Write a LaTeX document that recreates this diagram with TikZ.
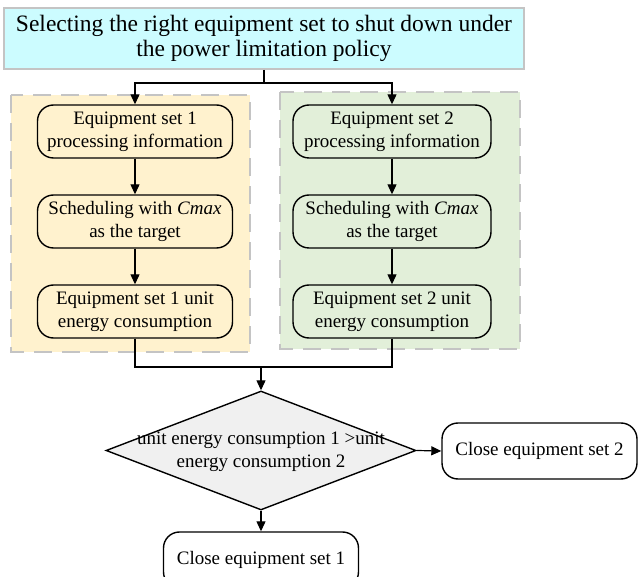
\documentclass[tikz,border=0pt]{standalone}
\usepackage{fontspec}
\setmainfont{Liberation Serif}
\usetikzlibrary{shapes.geometric,arrows.meta}

\definecolor{headfill}{HTML}{CCFCFF}
\definecolor{panelone}{HTML}{FFF2CE}
\definecolor{paneltwo}{HTML}{E2EFD9}
\definecolor{framegray}{HTML}{C4C4C4}
\definecolor{decfill}{HTML}{F0F0F0}

\tikzset{
  bodytext/.style={font=\fontsize{19}{23}\selectfont, align=center},
  headbox/.style={draw=framegray, line width=2pt, fill=headfill,
    minimum width=520pt, minimum height=61pt, inner sep=0pt,
    font=\fontsize{23.5}{25}\selectfont, align=center},
  panel/.style={draw=framegray, line width=2.5pt, dash pattern=on 18pt off 10pt},
  stepbox/.style={bodytext, draw, line width=1.4pt, rounded corners=16pt,
    minimum height=53pt, inner sep=0pt},
  endbox/.style={stepbox, fill=white, minimum width=195pt, minimum height=56pt},
  decision/.style={draw, line width=1.4pt, fill=decfill, diamond,
    minimum width=310pt, minimum height=119pt, inner sep=0pt},
  arr/.style={line width=1.2pt, -{Triangle[length=10pt,width=9pt]}},
  link/.style={line width=1.2pt}
}

\begin{document}
\begin{tikzpicture}[x=1pt,y=-1pt]
  \useasboundingbox (0,0) rectangle (638,577);
  \clip (0,0) rectangle (638,577);

  % group backgrounds
  \fill[panelone] (11,95) rectangle (250,352);
  \draw[panel] (11,95) rectangle (250,352);
  \fill[paneltwo] (280,92) rectangle (520,349);
  \draw[panel] (280,92) rectangle (520,349);

  % heading
  \node[headbox] (top) at (264,38.5)
    {Selecting the right equipment set to shut down under\\the power limitation policy};

  % equipment set 1 column
  \node[stepbox, minimum width=195pt] (l1) at (135,131.5)
    {Equipment set 1\\processing information};
  \node[stepbox, minimum width=195pt] (l2) at (135,221.5)
    {Scheduling with \textit{Cmax}\\as the target};
  \node[stepbox, minimum width=195pt] (l3) at (135,311.5)
    {Equipment set 1 unit\\energy consumption};

  % equipment set 2 column
  \node[stepbox, minimum width=198pt] (r1) at (392,131.5)
    {Equipment set 2\\processing information};
  \node[stepbox, minimum width=198pt] (r2) at (392,221.5)
    {Scheduling with \textit{Cmax}\\as the target};
  \node[stepbox, minimum width=198pt] (r3) at (392,311.5)
    {Equipment set 2 unit\\energy consumption};

  % comparison and outcomes
  \node[decision] (dec) at (261,450.5) {};
  \node[bodytext, inner sep=0pt] (dectext) at (261,452)
    {unit energy consumption 1 >unit\\energy consumption 2};
  \node[endbox] (c2) at (539.5,451) {Close equipment set 2};
  \node[endbox] (c1) at (261,560) {Close equipment set 1};

  % junctions
  \coordinate (split) at (264,83);
  \coordinate (merge) at (261,367);

  % connectors
  \draw[link] (top.south) -- (split);
  \draw[arr] (split) -| (l1.north);
  \draw[arr] (split) -| (r1.north);
  \draw[arr] (l1) -- (l2);
  \draw[arr] (l2) -- (l3);
  \draw[arr] (r1) -- (r2);
  \draw[arr] (r2) -- (r3);
  \draw[link] (l3.south) |- (merge);
  \draw[link] (r3.south) |- (merge);
  \draw[arr] (merge) -- (dec.north);
  \draw[arr] (dec.east) -- (c2.west);
  \draw[arr] (dec.south) -- (c1.north);
\end{tikzpicture}
\end{document}
